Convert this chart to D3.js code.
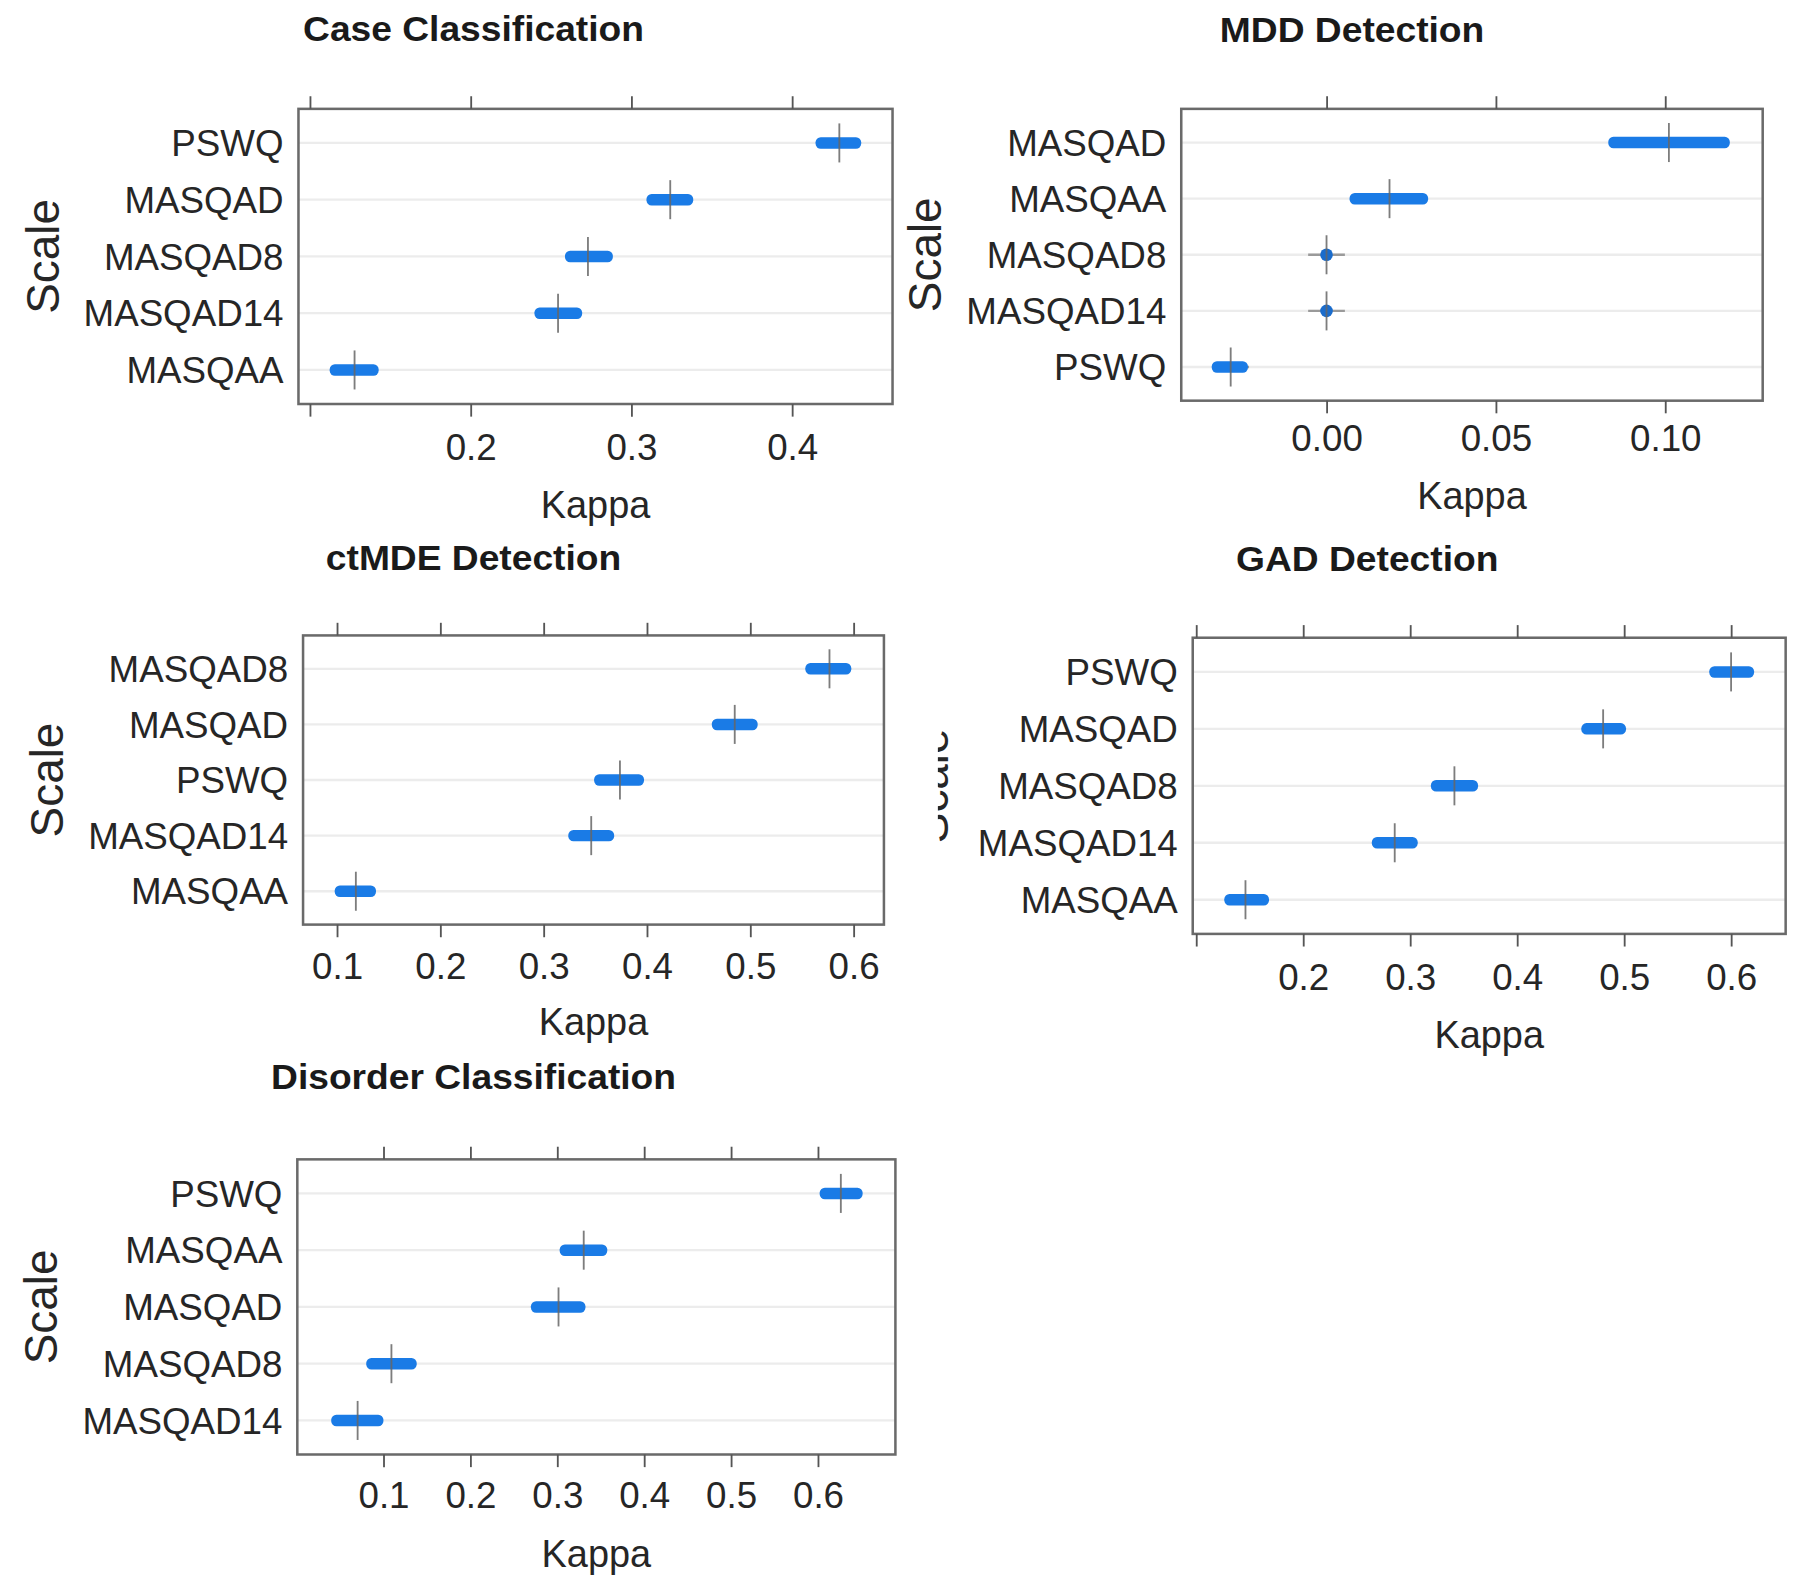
<!DOCTYPE html>
<html><head><meta charset="utf-8">
<script src="https://cdn.jsdelivr.net/npm/d3@7"></script>
<style>body{margin:0;background:#fff}</style>
</head><body>
<script>
// ---------- DATA ----------
const caseScales = ["PSWQ","MASQAD","MASQAD8","MASQAD14","MASQAA"];
const caseEst = [0.4294, 0.3242, 0.2730, 0.2544, 0.1278];
const caseLo  = [0.4146, 0.3094, 0.2587, 0.2397, 0.1123];
const caseHi  = [0.4430, 0.3385, 0.2885, 0.2694, 0.1428];
const caseTicks = [0.1, 0.2, 0.3, 0.4];
const caseTickLabels = ["", "0.2", "0.3", "0.4"];
const caseDomain = [0.0929, 0.4625];

const mddScales = ["MASQAD","MASQAA","MASQAD8","MASQAD14","PSWQ"];
const mddEst = [0.1011, 0.0186, 0.0000, 0.0000, -0.0283];
const mddLo  = [0.0832, 0.0068, 0.0000, 0.0000, -0.0339];
const mddHi  = [0.1191, 0.0300, 0.0000, 0.0000, -0.0232];
const mddTicks = [0.00, 0.05, 0.10];
const mddTickLabels = ["0.00", "0.05", "0.10"];
const mddDomain = [-0.0429, 0.1288];

const ctmdeScales = ["MASQAD8","MASQAD","PSWQ","MASQAD14","MASQAA"];
const ctmdeEst = [0.5767, 0.4850, 0.3739, 0.3461, 0.1183];
const ctmdeLo  = [0.5533, 0.4628, 0.3489, 0.3239, 0.0978];
const ctmdeHi  = [0.5978, 0.5072, 0.3972, 0.3683, 0.1378];
const ctmdeTicks = [0.1, 0.2, 0.3, 0.4, 0.5, 0.6];
const ctmdeTickLabels = ["0.1", "0.2", "0.3", "0.4", "0.5", "0.6"];
const ctmdeDomain = [0.0672, 0.6294];

const gadScales = ["PSWQ","MASQAD","MASQAD8","MASQAD14","MASQAA"];
const gadEst = [0.6000, 0.4804, 0.3414, 0.2856, 0.1461];
const gadLo  = [0.5796, 0.4600, 0.3194, 0.2642, 0.1263];
const gadHi  = [0.6215, 0.5018, 0.3635, 0.3071, 0.1681];
const gadTicks = [0.1, 0.2, 0.3, 0.4, 0.5, 0.6];
const gadTickLabels = ["", "0.2", "0.3", "0.4", "0.5", "0.6"];
const gadDomain = [0.0968, 0.6510];

const disScales = ["PSWQ","MASQAA","MASQAD","MASQAD8","MASQAD14"];
const disEst = [0.6264, 0.3305, 0.3015, 0.1092, 0.0703];
const disLo  = [0.6020, 0.3028, 0.2697, 0.0802, 0.0399];
const disHi  = [0.6515, 0.3576, 0.3325, 0.1383, 0.1000];
const disTicks = [0.1, 0.2, 0.3, 0.4, 0.5, 0.6];
const disTickLabels = ["0.1", "0.2", "0.3", "0.4", "0.5", "0.6"];
const disDomain = [0.0009, 0.6892];

const titles = ["Case Classification","MDD Detection","ctMDE Detection","GAD Detection","Disorder Classification"];
const xLabel = "Kappa";
const yLabel = "Scale";

const panels = [
  {title:titles[0], scales:caseScales, est:caseEst, lo:caseLo, hi:caseHi, ticks:caseTicks, labels:caseTickLabels, domain:caseDomain},
  {title:titles[1], scales:mddScales, est:mddEst, lo:mddLo, hi:mddHi, ticks:mddTicks, labels:mddTickLabels, domain:mddDomain},
  {title:titles[2], scales:ctmdeScales, est:ctmdeEst, lo:ctmdeLo, hi:ctmdeHi, ticks:ctmdeTicks, labels:ctmdeTickLabels, domain:ctmdeDomain},
  {title:titles[3], scales:gadScales, est:gadEst, lo:gadLo, hi:gadHi, ticks:gadTicks, labels:gadTickLabels, domain:gadDomain},
  {title:titles[4], scales:disScales, est:disEst, lo:disLo, hi:disHi, ticks:disTicks, labels:disTickLabels, domain:disDomain}
];

// ---------- LAYOUT (display coordinates in a 1568x1385 viewBox) ----------
const layout = [
  {x0:260,  x1:777.5,  y0:94.8,  y1:351.9, tx:412.5,  ty:35.3,  tickDy:49,   kDy:99,   clip:null},
  {x0:1029, x1:1535.5, y0:94.8,  y1:349,   tx:1177.8, ty:36.8,  tickDy:44,   kDy:94,   clip:null},
  {x0:264,  x1:770,    y0:553.5, y1:805.4, tx:412.5,  ty:496.3, tickDy:47,   kDy:96,   clip:null},
  {x0:1039, x1:1555.5, y0:555.5, y1:813.5, tx:1191,   ty:497.8, tickDy:49,   kDy:99,   clip:817},
  {x0:259,  x1:780,    y0:1009.9,y1:1267,  tx:412.5,  ty:949,   tickDy:47,   kDy:98,   clip:null}
];

const FONT = "'Liberation Sans', Arial, Helvetica, sans-serif";
const BLUE = "#1a7be6";

const svg = d3.select("body").append("svg")
  .attr("width", 1800).attr("height", 1590)
  .attr("viewBox", "0 0 1568 1385")
  .style("font-family", FONT);
svg.append("rect").attr("width",1568).attr("height",1385).attr("fill","#fff");
const defs = svg.append("defs");

panels.forEach((p, pi) => {
  const L = layout[pi];
  const g = svg.append("g");
  const x = d3.scaleLinear().domain(p.domain).range([L.x0, L.x1]);
  const y = d3.scalePoint().domain(p.scales).range([L.y0, L.y1]).padding(0.6);
  const rows = p.scales.map((s, i) => ({s, est:p.est[i], lo:p.lo[i], hi:p.hi[i]}));

  // grid lines
  g.selectAll(".grid").data(rows).join("line")
    .attr("x1", L.x0).attr("x2", L.x1)
    .attr("y1", d => y(d.s)).attr("y2", d => y(d.s))
    .attr("stroke", "#ececec").attr("stroke-width", 2);

  // horizontal arm of estimate marker
  g.selectAll(".harm").data(rows).join("line")
    .attr("x1", d => x(d.est) - 16).attr("x2", d => x(d.est) + 16)
    .attr("y1", d => y(d.s)).attr("y2", d => y(d.s))
    .attr("stroke", "#9a9a9a").attr("stroke-width", 2);

  // CI bars
  const wide = rows.filter(d => x(d.hi) - x(d.lo) > 6);
  const dots = rows.filter(d => x(d.hi) - x(d.lo) <= 6);
  g.selectAll(".bar").data(wide).join("rect")
    .attr("x", d => x(d.lo)).attr("width", d => x(d.hi) - x(d.lo))
    .attr("y", d => y(d.s) - 5).attr("height", 10)
    .attr("rx", 4.5).attr("fill", BLUE);
  g.selectAll(".dot").data(dots).join("circle")
    .attr("cx", d => x(d.est)).attr("cy", d => y(d.s)).attr("r", 5.5)
    .attr("fill", "#1a6ccc");

  // vertical line of estimate marker
  g.selectAll(".varm").data(rows).join("line")
    .attr("x1", d => x(d.est)).attr("x2", d => x(d.est))
    .attr("y1", d => y(d.s) - 17).attr("y2", d => y(d.s) + 17)
    .attr("stroke", "#666").attr("stroke-opacity", 0.85).attr("stroke-width", 1.6);

  // box
  g.append("rect").attr("x", L.x0).attr("y", L.y0)
    .attr("width", L.x1 - L.x0).attr("height", L.y1 - L.y0)
    .attr("fill", "none").attr("stroke", "#6a6a6a").attr("stroke-width", 2.2);

  // axes
  const top = g.append("g").attr("transform", `translate(0,${L.y0})`)
    .call(d3.axisTop(x).tickValues(p.ticks).tickSize(11).tickFormat(() => ""));
  const bot = g.append("g").attr("transform", `translate(0,${L.y1})`)
    .call(d3.axisBottom(x).tickValues(p.ticks).tickSize(11).tickFormat((d, i) => p.labels[i]));
  [top, bot].forEach(a => {
    a.select(".domain").remove();
    a.selectAll(".tick line").attr("stroke", "#555").attr("stroke-width", 1.6);
  });
  bot.selectAll(".tick text").attr("y", L.tickDy).attr("dy", 0)
    .attr("font-size", 32).attr("fill", "#262626").attr("font-family", FONT);

  // y category labels
  g.selectAll(".ylab").data(rows).join("text")
    .attr("x", L.x0 - 13).attr("y", d => y(d.s)).attr("dy", "0.36em")
    .attr("text-anchor", "end").attr("font-size", 32).attr("fill", "#262626")
    .text(d => d.s);

  // title
  g.append("text")
    .attr("transform", `translate(${L.tx},${L.ty}) scale(1.08,1)`)
    .attr("text-anchor", "middle").attr("font-size", 30).attr("font-weight", "bold")
    .attr("fill", "#1a1a1a").text(p.title);

  // x label
  g.append("text").attr("x", (L.x0 + L.x1) / 2).attr("y", L.y1 + L.kDy)
    .attr("text-anchor", "middle").attr("font-size", 33).attr("fill", "#262626")
    .text(xLabel);

  // y label
  let yl = g;
  if (L.clip !== null) {
    defs.append("clipPath").attr("id", "clip" + pi)
      .append("rect").attr("x", L.clip).attr("y", L.y0 - 40).attr("width", 200).attr("height", L.y1 - L.y0 + 80);
    yl = g.append("g").attr("clip-path", `url(#clip${pi})`);
  }
  const cy = (L.y0 + L.y1) / 2;
  const bx = L.x0 - (L.clip !== null ? 213 : 209);
  yl.append("text")
    .attr("transform", `translate(${bx},${cy}) rotate(-90)`)
    .attr("text-anchor", "middle").attr("font-size", 40).attr("fill", "#262626")
    .text(yLabel);
});
</script>
</body></html>
